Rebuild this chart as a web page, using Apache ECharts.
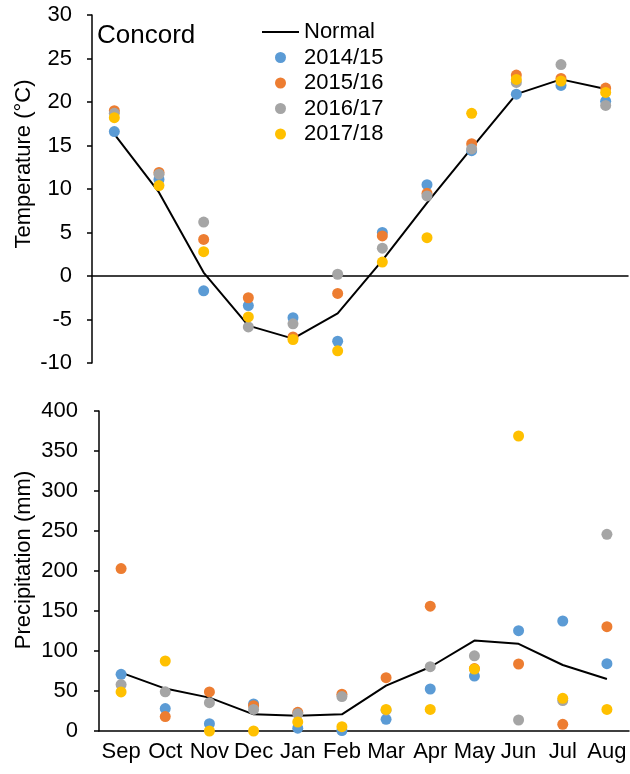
<!DOCTYPE html>
<html>
<head>
<meta charset="utf-8">
<script src="https://cdn.jsdelivr.net/npm/echarts@6/dist/echarts.min.js"></script>
<style>
  html, body { margin: 0; padding: 0; background: #fff; }
  #chart { width: 630px; height: 774px; }
</style>
</head>
<body>
<div id="chart"></div>
<script>
// Concord: monthly temperature and precipitation, normals vs. four seasons
const months = ['Sep', 'Oct', 'Nov', 'Dec', 'Jan', 'Feb', 'Mar', 'Apr', 'May', 'Jun', 'Jul', 'Aug'];
const seasons = ['2014/15', '2015/16', '2016/17', '2017/18'];
const seasonColors = ['#5B9BD5', '#ED7D31', '#A5A5A5', '#FFC000'];

// Temperature (°C)
const tempNormal = [16.3, 9.6, 0.4, -5.7, -7.2, -4.3, 1.8, 8.4, 14.7, 20.9, 22.6, 21.5];
const temp1415 = [16.6, 11.1, -1.7, -3.4, -4.8, -7.5, 5.0, 10.5, 14.4, 20.9, 21.9, 20.1];
const temp1516 = [19.0, 11.9, 4.2, -2.5, -7.0, -2.0, 4.6, 9.5, 15.2, 23.1, 22.7, 21.6];
const temp1617 = [18.7, 11.7, 6.2, -5.85, -5.5, 0.2, 3.2, 9.2, 14.6, 22.25, 24.3, 19.6];
const temp1718 = [18.2, 10.4, 2.8, -4.7, -7.3, -8.6, 1.6, 4.4, 18.7, 22.6, 22.4, 21.1];

// Precipitation (mm)
const precipNormal = [72.9, 53, 41.7, 20.8, 19.2, 20.8, 56.7, 80, 113, 109, 82.5, 65];
const precip1415 = [70.8, 28, 9.2, 33.8, 3.5, 0.5, 14.6, 52.5, 68.7, 125.4, 137.5, 84.2];
const precip1516 = [203, 18, 48.8, 31.7, 23.3, 46, 66.6, 156, 78, 83.75, 8.3, 130.4];
const precip1617 = [58, 49, 35.4, 27, 21.5, 43, 26, 80.4, 94, 13.75, 38, 245.8];
const precip1718 = [48.8, 87.5, 0, 0, 11.25, 5.4, 27, 27, 77.5, 368.75, 40.8, 27];

const tempTicks = { min: -10, max: 30, interval: 5 };
const precipTicks = { min: 0, max: 400, interval: 50 };

const FONT = 'Liberation Sans, Arial, sans-serif';
const INK = '#000';

const tempSeasons = [temp1415, temp1516, temp1617, temp1718];
const precipSeasons = [precip1415, precip1516, precip1617, precip1718];

function yAxisFor(ticks, gridIndex, margin) {
  return {
    type: 'value', gridIndex: gridIndex,
    min: ticks.min, max: ticks.max, interval: ticks.interval,
    axisLine: { show: true, lineStyle: { color: INK, width: 1.5 } },
    axisTick: { show: true, length: 5, lineStyle: { color: INK, width: 1.5 } },
    axisLabel: { color: INK, fontFamily: FONT, fontSize: 22, margin: margin },
    splitLine: { show: false }
  };
}

const series = [];
series.push({
  name: 'Normal', type: 'line', xAxisIndex: 0, yAxisIndex: 0,
  data: tempNormal, symbol: 'none', z: 2,
  lineStyle: { color: INK, width: 2 }, itemStyle: { color: INK }
});
series.push({
  name: 'Normal', type: 'line', xAxisIndex: 1, yAxisIndex: 1,
  data: precipNormal, symbol: 'none', z: 2,
  lineStyle: { color: INK, width: 2 }, itemStyle: { color: INK }
});
seasons.forEach(function (name, i) {
  series.push({
    name: name, type: 'scatter', xAxisIndex: 0, yAxisIndex: 0,
    data: tempSeasons[i], symbolSize: 11, z: 3 + i,
    itemStyle: { color: seasonColors[i], opacity: 1 }
  });
  series.push({
    name: name, type: 'scatter', xAxisIndex: 1, yAxisIndex: 1,
    data: precipSeasons[i], symbolSize: 11, z: 3 + i,
    itemStyle: { color: seasonColors[i], opacity: 1 }
  });
});

const option = {
  backgroundColor: '#fff',
  animation: false,
  textStyle: { fontFamily: FONT, color: INK },
  title: {
    text: 'Concord', left: 92, top: 18,
    textStyle: { fontFamily: FONT, fontSize: 26, fontWeight: 'normal', color: INK }
  },
  legend: {
    orient: 'vertical', left: 257, top: 16,
    itemWidth: 37, itemHeight: 11, itemGap: 3.5,
    data: [
      { name: 'Normal', icon: 'path://M0,0H37V2H0Z', itemStyle: { color: INK } },
      { name: '2014/15', icon: 'circle' },
      { name: '2015/16', icon: 'circle' },
      { name: '2016/17', icon: 'circle' },
      { name: '2017/18', icon: 'circle' }
    ],
    textStyle: { fontFamily: FONT, fontSize: 22, color: INK, lineHeight: 20 }
  },
  grid: [
    { left: 92, right: 2, top: 15, height: 348 },
    { left: 99, right: 1, top: 411, height: 320 }
  ],
  xAxis: [
    {
      type: 'category', gridIndex: 0, data: months, boundaryGap: true,
      axisLine: { show: true, onZero: true, lineStyle: { color: INK, width: 1.5 } },
      axisTick: { show: false }, axisLabel: { show: false }, splitLine: { show: false }
    },
    {
      type: 'category', gridIndex: 1, data: months, boundaryGap: true,
      axisLine: { show: true, onZero: true, lineStyle: { color: INK, width: 1.5 } },
      axisTick: { show: false },
      axisLabel: { color: INK, fontFamily: FONT, fontSize: 22, margin: 10, interval: 0 },
      splitLine: { show: false }
    }
  ],
  yAxis: [yAxisFor(tempTicks, 0, 20), yAxisFor(precipTicks, 1, 21)],
  graphic: [
    {
      type: 'text', x: 24, y: 164, rotation: Math.PI / 2,
      style: { text: 'Temperature (°C)', fontFamily: FONT, fontSize: 22, fill: INK,
               textAlign: 'center', textVerticalAlign: 'middle' }
    },
    {
      type: 'text', x: 24, y: 560, rotation: Math.PI / 2,
      style: { text: 'Precipitation (mm)', fontFamily: FONT, fontSize: 22, fill: INK,
               textAlign: 'center', textVerticalAlign: 'middle' }
    }
  ],
  series: series
};

const chart = echarts.init(document.getElementById('chart'), null, { renderer: 'canvas' });
chart.setOption(option);
</script>
</body>
</html>
